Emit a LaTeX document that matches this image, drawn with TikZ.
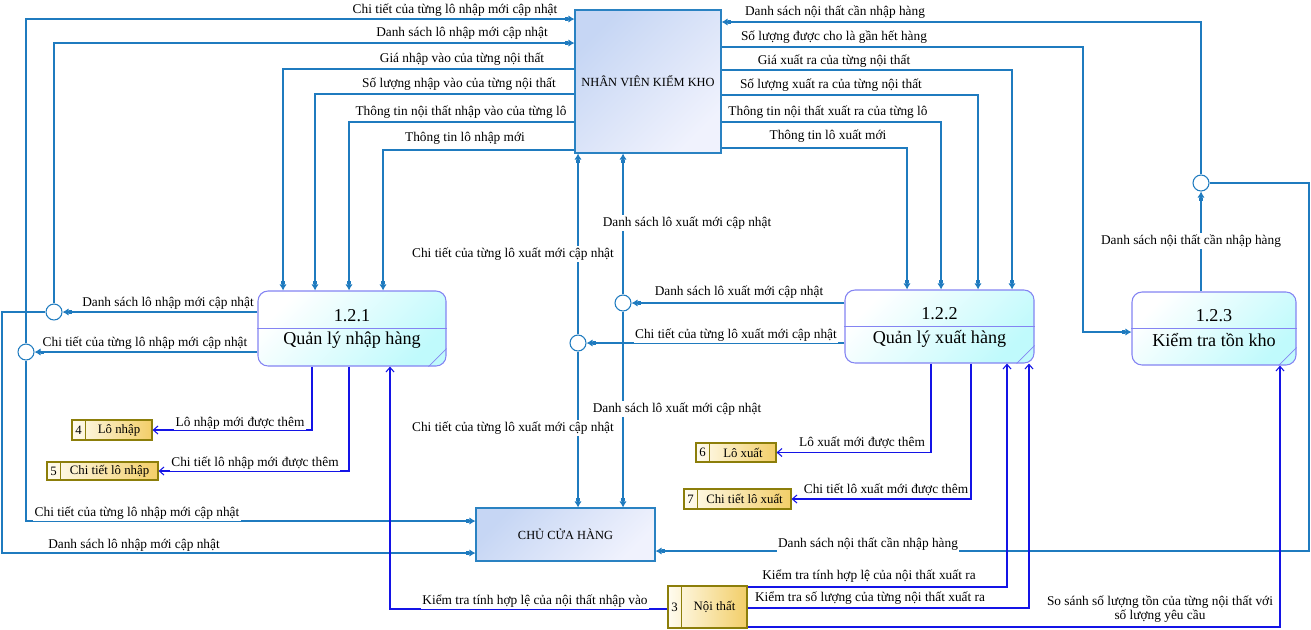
\documentclass[tikz,border=0pt]{standalone}
\usepackage{fontspec}
\setmainfont{Liberation Serif}
\usetikzlibrary{arrows.meta, calc, fit}
\definecolor{flowblue}{HTML}{1F7BBF}
\definecolor{dsblue}{HTML}{1414E6}
\definecolor{extborder}{HTML}{2A82C2}
\definecolor{extA}{HTML}{C6D6F4}
\definecolor{extB}{HTML}{F0F2FD}
\definecolor{procborder}{HTML}{8484F2}
\definecolor{procB}{HTML}{C0FAFC}
\definecolor{storeborder}{HTML}{8C7E0A}
\definecolor{storeA}{HTML}{FFFCF0}
\definecolor{storeB}{HTML}{F2CE68}
\tikzset{
	dfd/.cd,
	flow/.style = {
		draw = flowblue,
		line width = 0.8pt,
		-{Square[length = 2.4pt, width = 3.4pt]Latex[length = 4.5pt, width = 5.5pt]}
	},
	dsflow/.style = {
		draw = dsblue,
		line width = 0.8pt,
		-{Straight Barb[length = 3.5pt, width = 6pt]}
	},
}

\begin{document}
\begin{tikzpicture}[
		x = 0.75pt, y = -0.75pt,
		external/.style = {
			draw = extborder,
			line width = 0.8pt,
			top color = extA,
			bottom color = extB,
			shading angle = 45,
			inner sep = 0pt
		},
		process/.style = {
			draw = procborder,
			line width = 0.8pt,
			rounded corners = 7.5pt,
			top color = white,
			bottom color = procB,
			shading angle = 45,
			inner sep = 0pt
		},
		store/.style = {
			draw = storeborder,
			line width = 0.8pt,
			left color = storeA,
			right color = storeB,
			inner sep = 0pt
		},
		junction/.style = {
			circle,
			draw = flowblue,
			line width = 0.8pt,
			fill = white,
			minimum size = 12pt,
			inner sep = 0pt
		},
		lbl/.style = {
			fill = white,
			font = \fontsize{10}{10.5}\selectfont,
			inner sep = 1pt
		},
		storetext/.style = {
			font = \fontsize{9.6}{10}\selectfont,
			inner sep = 1pt
		},
		proctext/.style = {
			font = \fontsize{13.6}{15}\selectfont
		}]
		\useasboundingbox (0, 0) rectangle (1311, 629);
		\node[external, fit = {(575, 10) (721, 153)}, label = {[font = \fontsize{9.3}{10}\selectfont]center:NHÂN VIÊN KIỂM KHO}] (nvkk) {};
		\node[external, fit = {(476, 508) (655, 561)}, label = {[font = \fontsize{9.3}{10}\selectfont]center:CHỦ CỬA HÀNG}] (cch) {};
		\foreach \n/\xa/\ya/\xb/\yb/\num/\txt in {p1/258/291/446/366/1.2.1/Quản lý nhập hàng, p2/845/290/1034/363/1.2.2/Quản lý xuất hàng, p3/1132/292/1296/365/1.2.3/Kiểm tra tồn kho}{
			\node[process, fit = {(\xa, \ya) (\xb, \yb)}] (\n) {};
			\draw[procborder, line width = 0.8pt] (\n.west) -- (\n.east);
			\draw[procborder, line width = 0.6pt] ($(\n.south east) + (-18, 0)$) -- ($(\n.south east) + (0, -18)$);
			\node[proctext] (\n-num) at ($(\n.center) + (0, -13)$) {\num};
			\node[proctext] (\n-name) at ($(\n.center) + (0, 12)$) {\txt};
		}
		\foreach \n/\xa/\ya/\xb/\yb/\num/\txt in {ds3/668/586/747/628/3/Nội thất, ds4/72/420/152/440/4/Lô nhập, ds5/47/462/158/480/5/Chi tiết lô nhập, ds6/696/443/776/462/6/Lô xuất, ds7/684/489/791/509/7/Chi tiết lô xuất}{
			\node[store, fit = {(\xa, \ya) (\xb, \yb)}] (\n) {};
			\draw[storeborder, line width = 0.8pt] ($(\n.north west) + (14, 0)$) -- ($(\n.south west) + (14, 0)$);
			\node[storetext] (\n-num) at ($(\n.west) + (7, 0)$) {\num};
			\node[storetext] (\n-name) at ($(\n.center) + (7, 0)$) {\txt};
		}
		\node[junction] (jDsNhap) at (54, 312) {};
		\node[junction] (jCtNhap) at (26, 352) {};
		\node[junction] (jDsXuat) at (623, 303) {};
		\node[junction] (jCtXuat) at (578, 343) {};
		\node[junction] (jCanNhap) at (1201, 183) {};
		\draw[dfd/flow] (jCtNhap.north) |- (nvkk.west |- 0, 19) node[lbl] (lCtNhapUp) at (455, 10) {Chi tiết của từng lô nhập mới cập nhật};
		\draw[dfd/flow] (jDsNhap.north) |- (nvkk.west |- 0, 43) node[lbl] (lDsNhapUp) at (462, 33) {Danh sách lô nhập mới cập nhật};
		\foreach \ly/\lx/\tx/\ty/\txt [count = \i] in {69/283/462/59/Giá nhập vào của từng nội thất, 94/315/459/84/Số lượng nhập vào của từng nội thất, 122/349/461/112/Thông tin nội thất nhập vào của từng lô, 150/383/465/138/Thông tin lô nhập mới}{
			\draw[dfd/flow] (nvkk.west |- 0, \ly) -| (\lx, 0 |- p1.north) node[lbl] (lNhap\i) at (\tx, \ty) {\txt};
		}
		\foreach \ly/\lx/\tx/\ty/\txt [count = \i] in {70/1012/834/61/Giá xuất ra của từng nội thất, 95/978/831/85/Số lượng xuất ra của từng nội thất, 122/941/828/112/Thông tin nội thất xuất ra của từng lô, 148/907/828/136/Thông tin lô xuất mới}{
			\draw[dfd/flow] (nvkk.east |- 0, \ly) -| (\lx, 0 |- p2.north) node[lbl] (lXuat\i) at (\tx, \ty) {\txt};
		}
		\draw[dfd/flow] (nvkk.east |- 0, 47) -| (1083, 332) -- (p3.west |- 0, 332) node[lbl] (lGanHet) at (834, 37) {Số lượng được cho là gần hết hàng};
		\draw[dfd/flow] (jCanNhap.north) |- (nvkk.east |- 0, 22) node[lbl] (lCanNhapUp) at (835, 12) {Danh sách nội thất cần nhập hàng};
		\draw[dfd/flow] (p3.north -| jCanNhap) -- (jCanNhap.south) node[lbl] (lCanNhap) at (1191, 241) {Danh sách nội thất cần nhập hàng};
		\draw[dfd/flow] (jCanNhap.east) -| (1309, 551) -- (cch.east |- 0, 551) node[lbl] (lCanNhapDown) at (868, 544) {Danh sách nội thất cần nhập hàng};
		\draw[dfd/flow] (p1.west |- 0, 312) -- (jDsNhap.east) node[lbl] (lDsNhap) at (168, 303) {Danh sách lô nhập mới cập nhật};
		\draw[dfd/flow] (p1.west |- 0, 352) -- (jCtNhap.east) node[lbl] (lCtNhap) at (145, 343) {Chi tiết của từng lô nhập mới cập nhật};
		\draw[dfd/flow] (jDsNhap.west) -| (2, 553) -- (cch.west |- 0, 553) node[lbl] (lDsNhapDown) at (134, 545) {Danh sách lô nhập mới cập nhật};
		\draw[dfd/flow] (jCtNhap.south) |- (cch.west |- 0, 521) node[lbl] (lCtNhapDown) at (137, 513) {Chi tiết của từng lô nhập mới cập nhật};
		\draw[dfd/flow] (p2.west |- 0, 303) -- (jDsXuat.east) node[lbl] (lDsXuat) at (739, 292) {Danh sách lô xuất mới cập nhật};
		\draw[dfd/flow] (p2.west |- 0, 343) -- (jCtXuat.east) node[lbl] (lCtXuat) at (736, 335) {Chi tiết của từng lô xuất mới cập nhật};
		\draw[dfd/flow] (jDsXuat.north) -- (nvkk.south -| jDsXuat) node[lbl] (lDsXuatUp) at (687, 223) {Danh sách lô xuất mới cập nhật};
		\draw[dfd/flow] (jDsXuat.south) -- (cch.north -| jDsXuat) node[lbl] (lDsXuatDown) at (677, 409) {Danh sách lô xuất mới cập nhật};
		\draw[dfd/flow] (jCtXuat.north) -- (nvkk.south -| jCtXuat) node[lbl] (lCtXuatUp) at (513, 254) {Chi tiết của từng lô xuất mới cập nhật};
		\draw[dfd/flow] (jCtXuat.south) -- (cch.north -| jCtXuat) node[lbl] (lCtXuatDown) at (513, 428) {Chi tiết của từng lô xuất mới cập nhật};
		\draw[dfd/dsflow] (312, 0 |- p1.south) |- (ds4.east) node[lbl] (lThemNhap) at (240, 423) {Lô nhập mới được thêm};
		\draw[dfd/dsflow] (349, 0 |- p1.south) |- (ds5.east) node[lbl] (lThemCtNhap) at (255, 463) {Chi tiết lô nhập mới được thêm};
		\draw[dfd/dsflow] (931, 0 |- p2.south) |- (ds6.east) node[lbl] (lThemXuat) at (862, 443) {Lô xuất mới được thêm};
		\draw[dfd/dsflow] (971, 0 |- p2.south) |- (ds7.east) node[lbl] (lThemCtXuat) at (886, 490) {Chi tiết lô xuất mới được thêm};
		\draw[dfd/dsflow] (ds3.west |- 0, 609) -| (390, 0 |- p1.south) node[lbl] (lHopLeNhap) at (535, 601) {Kiểm tra tính hợp lệ của nội thất nhập vào};
		\draw[dfd/dsflow] (ds3.east |- 0, 587) -| (1007, 0 |- p2.south) node[lbl] (lHopLeXuat) at (869, 576) {Kiểm tra tính hợp lệ của nội thất xuất ra};
		\draw[dfd/dsflow] (ds3.east |- 0, 608) -| (1029, 0 |- p2.south) node[lbl] (lSoLuong) at (870, 598) {Kiểm tra số lượng của từng nội thất xuất ra};
		\draw[dfd/dsflow] (ds3.east |- 0, 627) -| (1280, 0 |- p3.south) node[lbl, align = center] (lSoSanh) at (1160, 609) {So sánh số lượng tồn của từng nội thất với\\số lượng yêu cầu};
	\end{tikzpicture}
\end{document}
